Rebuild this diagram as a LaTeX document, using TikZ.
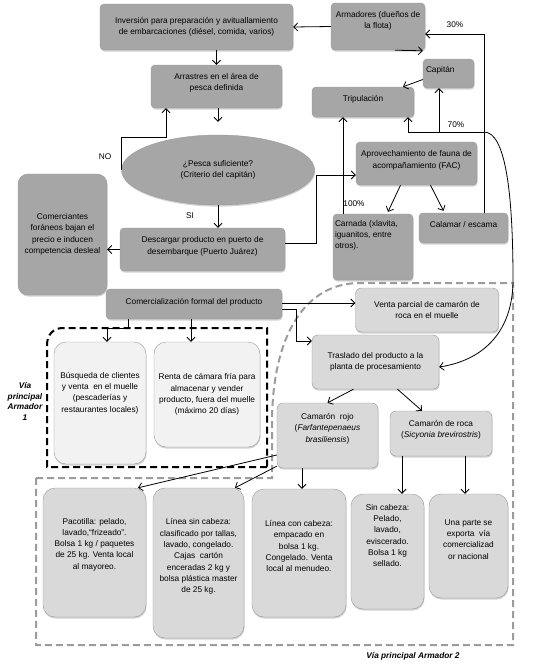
\documentclass[tikz,border=0pt]{standalone}
\usepackage{fontspec}
\setmainfont{Liberation Sans}
\usetikzlibrary{shapes.geometric,shadows,arrows.meta}
\definecolor{boxdark}{HTML}{A6A6A6}
\definecolor{boxlight}{HTML}{D9D9D9}
\definecolor{boxpale}{HTML}{F2F2F2}
\definecolor{dashgray}{HTML}{9C9C9C}

\begin{document}
\begin{tikzpicture}[x=1pt,y=-1pt,
    txt/.style={font=\fontsize{8.3}{11.3}\selectfont, align=center, inner sep=1pt, text=black},
    flowbox/.style={txt, draw=black!40, line width=0.4pt, drop shadow={shadow xshift=0.6pt,shadow yshift=-1.6pt,opacity=0.35}},
    darkbox/.style={flowbox, fill=boxdark, rounded corners=4pt},
    lightbox/.style={flowbox, fill=boxlight, rounded corners=6pt},
    roundbox/.style={flowbox, fill=boxlight, rounded corners=12pt},
    palebox/.style={flowbox, fill=boxpale, rounded corners=12pt},
    arr/.style={-{Straight Barb[length=4pt,width=8pt]}, line width=0.8pt},
    vialbl/.style={txt, font=\fontsize{8.3}{10.5}\selectfont\bfseries\itshape}]
\fill[white] (0,0) rectangle (539,664);
\useasboundingbox (0,0) rectangle (539,664);

% dashed regions
\draw[dashgray, line width=2pt, dash pattern=on 7pt off 4pt] (36,478) -- (272,478) -- (272,420) .. controls (273,335) and (305,283) .. (360,283) -- (513,283) -- (513,645) -- (36,645) -- cycle;
\draw[black, line width=2pt, dash pattern=on 7pt off 4pt] (267,467) -- (47,467) -- (47,345) .. controls (47,335) and (53,328) .. (63,328) -- (267,328) -- cycle;

% top part
\node[darkbox, minimum width=193, minimum height=46] (inv) at (196.5,27) {Inversión para preparación y avituallamiento\\de embarcaciones (diésel, comida, varios)};
\node[darkbox, minimum width=94, minimum height=47] (arm) at (378,26.5) {};
\node[txt] (arm-t) at ([yshift=5.5pt]arm.center) {Armadores (dueños de\\la flota)};
\node[darkbox, minimum width=51, minimum height=29] (cap) at (448.5,73.5) {};
\node[txt, anchor=west] (cap-t) at ([xshift=2pt,yshift=3.5pt]cap.west) {Capitán};
\node[darkbox, minimum width=102, minimum height=30] (trip) at (363,102) {};
\node[txt] (trip-t) at ([yshift=3pt]trip.center) {Tripulación};
\node[darkbox, minimum width=131, minimum height=43] (arr) at (216.5,86.5) {};
\node[txt] (arr-t) at ([yshift=4pt]arr.center) {Arrastres en el área de\\pesca definida};
\node[flowbox, ellipse, fill=boxdark, minimum width=193, minimum height=70, inner sep=0pt] (ell) at (218,170) {¿Pesca suficiente?\\(Criterio del capitán)};
\node[darkbox, minimum width=121, minimum height=43] (fac) at (416.5,163.5) {};
\node[txt] (fac-t) at ([yshift=3pt]fac.center) {Aprovechamiento de fauna de\\acompañamiento (FAC)};
\node[darkbox, minimum width=80, minimum height=66] (carn) at (373,247) {};
\node[txt, align=left, anchor=north west] (carn-t) at ([xshift=1pt,yshift=-5pt]carn.north west) {Carnada (xlavita,\\iguanitos, entre\\otros).};
\node[darkbox, minimum width=89, minimum height=30] (cal) at (463.5,228) {};
\node[txt] (cal-t) at ([yshift=3pt]cal.center) {Calamar / escama};
\node[darkbox, rounded corners=10pt, minimum width=89, minimum height=121] (comer) at (62.5,234.5) {Comerciantes\\foráneos bajan el\\precio e inducen\\competencia desleal};
\node[darkbox, minimum width=165, minimum height=43] (desc) at (202.5,249.5) {};
\node[txt] (desc-t) at ([yshift=3pt]desc.center) {Descargar producto en puerto de\\desembarque (Puerto Juárez)};
\node[darkbox, minimum width=176, minimum height=30] (comf) at (194,304) {};
\node[txt] (comf-t) at ([yshift=2pt]comf.center) {Comercialización formal del producto};

% middle part
\node[lightbox, minimum width=143, minimum height=44] (venta) at (427,310) {Venta parcial de camarón de\\roca en el muelle};
\node[lightbox, minimum width=127, minimum height=54] (tras) at (375.5,362) {Traslado del producto a la\\planta de procesamiento};
\node[lightbox, minimum width=101, minimum height=65] (rojo) at (327.5,435.5) {};
\node[txt] (rojo-t) at ([yshift=7pt]rojo.center) {Camarón\ \ rojo\\(\textit{Farfantepenaeus}\\\textit{brasiliensis})};
\node[lightbox, minimum width=102, minimum height=45] (roca) at (441,433.5) {};
\node[txt] (roca-t) at ([yshift=4pt]roca.center) {Camarón de roca\\(\textit{Sicyonia brevirostris})};
\node[palebox, minimum width=92, minimum height=122] (busq) at (100,403) {};
\node[txt] (busq-t) at ([yshift=10pt]busq.center) {Búsqueda de clientes\\y venta\ \ en el muelle\\(pescaderías y\\restaurantes locales)};
\node[palebox, minimum width=106, minimum height=105] (renta) at (207,394.5) {Renta de cámara fría para\\almacenar y vender\\producto, fuera del muelle\\(máximo 20 días)};

% bottom part
\node[roundbox, minimum width=103, minimum height=129] (pacot) at (94.5,552.5) {};
\node[txt] (pacot-t) at ([yshift=8pt]pacot.center) {Pacotilla: pelado,\\lavado,``frizeado''.\\Bolsa 1 kg / paquetes\\de 25 kg. Venta local\\al mayoreo.};
\node[roundbox, minimum width=91, minimum height=150] (linsin) at (198.5,563) {};
\node[txt] (linsin-t) at ([yshift=6.5pt]linsin.center) {Línea sin cabeza:\\clasificado por tallas,\\lavado, congelado.\\Cajas\ \ cartón\\enceradas 2 kg y\\bolsa plástica master\\de 25 kg.};
\node[roundbox, minimum width=94, minimum height=128] (lincon) at (299,553) {};
\node[txt] (lincon-t) at ([yshift=7pt]lincon.center) {Línea con cabeza:\\empacado en\\bolsa 1 kg.\\Congelado. Venta\\local al menudeo.};
\node[roundbox, minimum width=73, minimum height=115] (sincab) at (387.5,551.5) {};
\node[txt] (sincab-t) at ([yshift=16pt]sincab.center) {Sin cabeza:\\Pelado,\\lavado,\\eviscerado.\\Bolsa 1 kg\\sellado.};
\node[roundbox, minimum width=79, minimum height=104] (unap) at (468.5,546) {};
\node[txt] (unap-t) at ([yshift=6.5pt]unap.center) {Una parte se\\exporta\ \ vía\\comercializad\\or nacional};

% labels
\node[txt] (no) at (105,157) {NO};
\node[txt] (si) at (190,216) {SI};
\node[txt] (p100) at (354,204) {100\%};
\node[txt] (p30) at (455,25) {30\%};
\node[txt] (p70) at (456,125) {70\%};
\node[vialbl] (via1) at (25,401.5) {Vía\\principal\\Armador\\1};
\node[vialbl] (via2) at (413,656) {Vía principal Armador 2};

% connectors
\coordinate (noturn) at (166,137);
\coordinate (split) at (484,132);
\draw[arr] (arm.west) -- (inv.east);
\draw[arr] (inv.south -| arr.north) -- (arr.north);
\draw[arr] ([xshift=17pt]arm.south) -- ([yshift=8pt]cap.north west);
\draw[arr] ([yshift=-6pt]cap.west) -- ([xshift=40pt]trip.north);
\draw[arr, shorten >=13pt] (arr.south -| ell.north) -- (ell.north);
\draw[arr] (ell.west) |- (noturn) -- (noturn |- arr.south);
\draw[arr] (ell.south) -- (ell.south |- desc.north);
\draw[arr] (desc.west) -- (desc.west -| comer.east);
\draw[arr] ([yshift=6.5pt]desc.east) -| ([xshift=-39pt,yshift=-11.5pt]fac.west) -- ([yshift=-11.5pt]fac.west);
\draw[arr] ([xshift=-30pt]carn.north) -- ([xshift=-30pt]carn.north |- trip.south);
\draw[arr] ([xshift=-16pt]fac.south) -- ([xshift=15pt,yshift=2pt]carn.north);
\draw[arr] ([xshift=14pt]fac.south) -- ([xshift=-20pt,yshift=2pt]cal.north);
\draw[arr] (split |- cal.north) |- ([yshift=-7.5pt]arm.east);
\draw[arr] (split) -| ([xshift=45pt]trip.south);
\draw[arr] ([xshift=-9.5pt]cap.south |- split) -- ([xshift=-9.5pt]cap.south);
\draw[arr] (split) .. controls (505,132) and (513,190) .. (513,280) .. controls (513,330) and (485,360) .. ([yshift=-5pt]tras.east);
\draw[arr] ([yshift=1pt]comf.east) -- ([yshift=1pt]comf.east -| venta.west);
\draw[arr] ([yshift=-5pt]comf.east) -| ([xshift=-15pt,yshift=21pt]tras.west) -- ([yshift=21pt]tras.west);
\draw[arr] ([xshift=-66pt]comf.south) -- ++(0,9) -| ([xshift=7pt]busq.north);
\draw[arr] ([xshift=-3pt]comf.south) -- ([xshift=-3pt]comf.south |- renta.north);
\draw[arr] ([xshift=-22pt]tras.south) -- (rojo.north);
\draw[arr] ([xshift=22pt]tras.south) -- ([xshift=-19pt]roca.north);
\draw[arr] ([yshift=-19.5pt]rojo.west) -- ([xshift=43.5pt]pacot.north);
\draw[arr] ([yshift=2pt]rojo.south west) -- ([xshift=36.5pt]linsin.north);
\draw[arr] ([xshift=-25.5pt]rojo.south) -- ([xshift=-25.5pt]rojo.south |- lincon.north);
\draw[arr] ([xshift=-39pt]roca.south) -- ([xshift=-39pt]roca.south |- sincab.north);
\draw[arr] ([xshift=24pt]roca.south) -- ([xshift=24pt]roca.south |- unap.north);
\end{tikzpicture}
\end{document}
